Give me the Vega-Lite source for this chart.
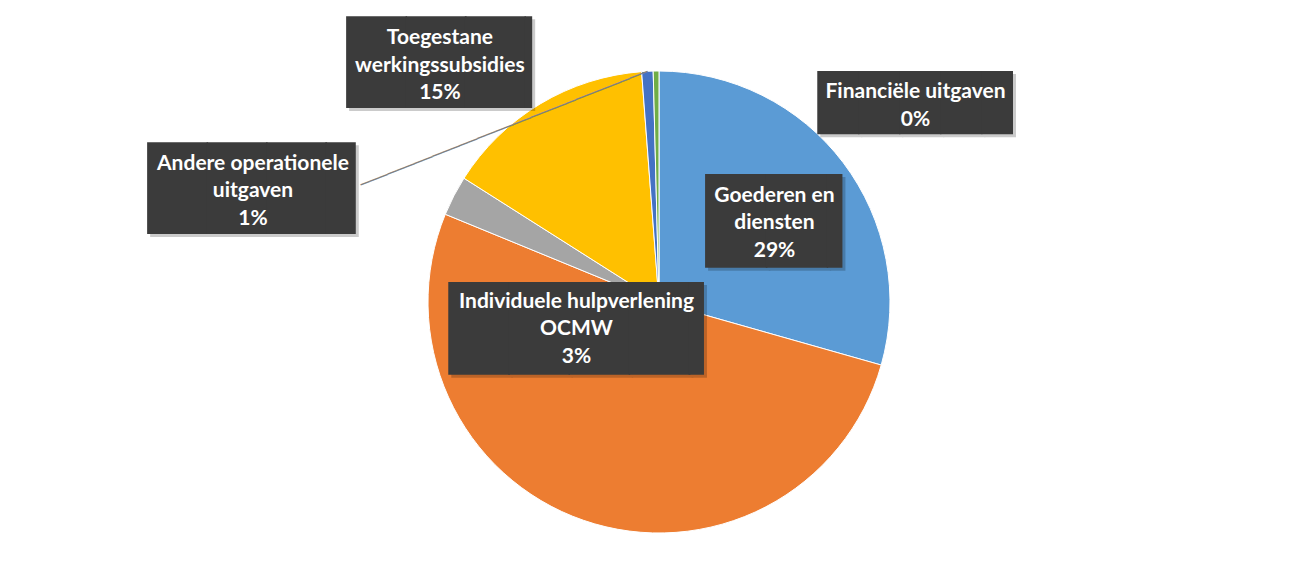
{
  "$schema": "https://vega.github.io/schema/vega-lite/v6.json",
  "width": 1308,
  "height": 586,
  "autosize": {"type": "none"},
  "padding": {"left": 5, "top": 9, "right": 0, "bottom": 0},
  "background": "#ffffff",
  "config": {"view": {"stroke": null, "fill": "#f2f2f2"}},
  "data": {
    "values": [
      {"cat": "Goederen en diensten", "value": 29.4, "volgorde": 1, "label": "Goederen en\ndiensten\n29%"},
      {"cat": "Bezoldigingen", "value": 51.8, "volgorde": 2, "label": ""},
      {"cat": "Individuele hulpverlening OCMW", "value": 2.8, "volgorde": 3, "label": "Individuele hulpverlening\nOCMW\n3%"},
      {"cat": "Toegestane werkingssubsidies", "value": 14.8, "volgorde": 4, "label": "Toegestane\nwerkingssubsidies\n15%"},
      {"cat": "Andere operationele uitgaven", "value": 0.8, "volgorde": 5, "label": "Andere operationele\nuitgaven\n1%"},
      {"cat": "Financiële uitgaven", "value": 0.4, "volgorde": 6, "label": "Financiële uitgaven\n0%"}
    ]
  },
  "encoding": {
    "theta": {"field": "value", "type": "quantitative", "stack": true},
    "order": {"field": "volgorde", "type": "quantitative"},
    "detail": {"field": "cat", "type": "nominal"}
  },
  "layer": [
    {
      "mark": {"type": "arc", "outerRadius": 231, "stroke": "#ffffff", "strokeWidth": 1},
      "encoding": {
        "color": {
          "field": "cat", "type": "nominal", "legend": null,
          "scale": {
            "domain": ["Goederen en diensten", "Bezoldigingen", "Individuele hulpverlening OCMW", "Toegestane werkingssubsidies", "Andere operationele uitgaven", "Financiële uitgaven"],
            "range": ["#5b9bd5", "#ed7d31", "#a5a5a5", "#ffc000", "#4472c4", "#70ad47"]
          }
        }
      }
    },
    {
      "mark": {"type": "text", "radius": 231, "angle": -21.6, "align": "right", "baseline": "alphabetic", "dy": 5.6, "font": "DejaVu Sans", "fontSize": 16, "fill": "#808080"},
      "encoding": {"text": {"condition": {"test": "datum.cat === 'Andere operationele uitgaven'", "value": "────────────────────────────────"}, "value": ""}}
    },
    {
      "mark": {"type": "text", "radius": 140, "dx": -61.7, "dy": 33.8, "align": "left", "baseline": "alphabetic", "font": "DejaVu Sans", "fontSize": 79, "fill": "#000000", "opacity": 0.2},
      "encoding": {"text": {"condition": {"test": "datum.cat === 'Goederen en diensten'", "value": "██▎"}, "value": ""}}
    },
    {
      "mark": {"type": "text", "radius": 140, "dx": -64.7, "dy": 30.8, "align": "left", "baseline": "alphabetic", "font": "DejaVu Sans", "fontSize": 79, "fill": "#3b3b3b"},
      "encoding": {"text": {"condition": {"test": "datum.cat === 'Goederen en diensten'", "value": "██▎"}, "value": ""}}
    },
    {
      "mark": {"type": "text", "radius": 140, "dx": 3.8, "dy": -22, "align": "center", "baseline": "middle", "font": "Lato", "fontWeight": "bold", "fontSize": 21, "lineHeight": 27.5, "lineBreak": "\n", "fill": "#ffffff"},
      "encoding": {"text": {"condition": {"test": "datum.cat === 'Goederen en diensten'", "field": "label"}, "value": ""}}
    },
    {
      "mark": {"type": "text", "radius": 100, "dx": -118.2, "dy": 101.5, "align": "left", "baseline": "alphabetic", "font": "DejaVu Sans", "fontSize": 78.2, "fill": "#000000", "opacity": 0.2},
      "encoding": {"text": {"condition": {"test": "datum.cat === 'Individuele hulpverlening OCMW'", "value": "████▎"}, "value": ""}}
    },
    {
      "mark": {"type": "text", "radius": 100, "dx": -121.2, "dy": 98.5, "align": "left", "baseline": "alphabetic", "font": "DejaVu Sans", "fontSize": 78.2, "fill": "#3b3b3b"},
      "encoding": {"text": {"condition": {"test": "datum.cat === 'Individuele hulpverlening OCMW'", "value": "████▎"}, "value": ""}}
    },
    {
      "mark": {"type": "text", "radius": 100, "dx": 6.3, "dy": 45.5, "align": "center", "baseline": "middle", "font": "Lato", "fontWeight": "bold", "fontSize": 21, "lineHeight": 27.5, "lineBreak": "\n", "fill": "#ffffff"},
      "encoding": {"text": {"condition": {"test": "datum.cat === 'Individuele hulpverlening OCMW'", "field": "label"}, "value": ""}}
    },
    {
      "mark": {"type": "text", "radius": 280, "dx": -165, "dy": 29.9, "align": "left", "baseline": "alphabetic", "font": "DejaVu Sans", "fontSize": 77.3, "fill": "#000000", "opacity": 0.2},
      "encoding": {"text": {"condition": {"test": "datum.cat === 'Toegestane werkingssubsidies'", "value": "███▏"}, "value": ""}}
    },
    {
      "mark": {"type": "text", "radius": 280, "dx": -168, "dy": 26.9, "align": "left", "baseline": "alphabetic", "font": "DejaVu Sans", "fontSize": 77.3, "fill": "#3b3b3b"},
      "encoding": {"text": {"condition": {"test": "datum.cat === 'Toegestane werkingssubsidies'", "value": "███▏"}, "value": ""}}
    },
    {
      "mark": {"type": "text", "radius": 280, "dx": -75, "dy": -23.5, "align": "center", "baseline": "middle", "font": "Lato", "fontWeight": "bold", "fontSize": 21, "lineHeight": 27.5, "lineBreak": "\n", "fill": "#ffffff"},
      "encoding": {"text": {"condition": {"test": "datum.cat === 'Toegestane werkingssubsidies'", "field": "label"}, "value": ""}}
    },
    {
      "mark": {"type": "text", "radius": 231, "dx": -496.4, "dy": 146.5, "align": "left", "baseline": "alphabetic", "font": "DejaVu Sans", "fontSize": 77.3, "fill": "#000000", "opacity": 0.2},
      "encoding": {"text": {"condition": {"test": "datum.cat === 'Andere operationele uitgaven'", "value": "███▌"}, "value": ""}}
    },
    {
      "mark": {"type": "text", "radius": 231, "dx": -499.4, "dy": 143.5, "align": "left", "baseline": "alphabetic", "font": "DejaVu Sans", "fontSize": 77.3, "fill": "#3b3b3b"},
      "encoding": {"text": {"condition": {"test": "datum.cat === 'Andere operationele uitgaven'", "value": "███▌"}, "value": ""}}
    },
    {
      "mark": {"type": "text", "radius": 231, "dx": -394.4, "dy": 92.3, "align": "center", "baseline": "middle", "font": "Lato", "fontWeight": "bold", "fontSize": 21, "lineHeight": 27.5, "lineBreak": "\n", "fill": "#ffffff"},
      "encoding": {"text": {"condition": {"test": "datum.cat === 'Andere operationele uitgaven'", "field": "label"}, "value": ""}}
    },
    {
      "mark": {"type": "text", "radius": 231, "dx": 164.9, "dy": 53.4, "align": "left", "baseline": "alphabetic", "font": "DejaVu Sans", "fontSize": 53.3, "fill": "#000000", "opacity": 0.2},
      "encoding": {"text": {"condition": {"test": "datum.cat === 'Financiële uitgaven'", "value": "████▊"}, "value": ""}}
    },
    {
      "mark": {"type": "text", "radius": 231, "dx": 161.9, "dy": 50.4, "align": "left", "baseline": "alphabetic", "font": "DejaVu Sans", "fontSize": 53.3, "fill": "#3b3b3b"},
      "encoding": {"text": {"condition": {"test": "datum.cat === 'Financiële uitgaven'", "value": "████▊"}, "value": ""}}
    },
    {
      "mark": {"type": "text", "radius": 231, "dx": 259.4, "dy": 21, "align": "center", "baseline": "middle", "font": "Lato", "fontWeight": "bold", "fontSize": 21, "lineHeight": 27.5, "lineBreak": "\n", "fill": "#ffffff"},
      "encoding": {"text": {"condition": {"test": "datum.cat === 'Financiële uitgaven'", "field": "label"}, "value": ""}}
    }
  ]
}
